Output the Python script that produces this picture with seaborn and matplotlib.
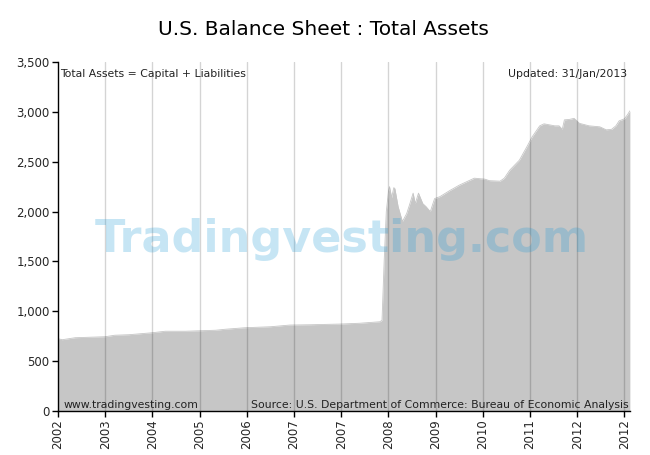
import numpy as np
import pandas as pd
import matplotlib
matplotlib.use("Agg")
import matplotlib.pyplot as plt
import seaborn as sns
from matplotlib.ticker import FuncFormatter

# weekly index (0 = Dec 2002) and total assets
weeks = [0, 4, 16, 30, 44, 53, 66, 77, 88, 100, 119, 133, 147, 156, 174, 198,
         216, 235, 263, 281, 300, 302, 304, 306, 308, 309, 311, 313, 314, 317,
         321, 325, 328, 331, 333, 336, 340, 343, 347, 351, 356, 365, 374, 384,
         388, 398, 402, 412, 416, 421, 430, 437, 442, 449, 453, 463, 467, 470,
         472, 477, 481, 486, 495, 505, 511, 516, 520, 523, 528, 531, 533]
assets = [725, 715, 735, 740, 745, 760, 765, 775, 785, 800, 800, 805, 810, 820,
          835, 845, 862, 865, 872, 880, 895, 910, 1500, 2000, 2200, 2250, 2140,
          2240, 2230, 2050, 1900, 1980, 2080, 2185, 2080, 2185, 2080, 2050, 2000,
          2130, 2150, 2210, 2265, 2315, 2335, 2325, 2310, 2305, 2335, 2415, 2515,
          2650, 2750, 2860, 2880, 2860, 2860, 2825, 2920, 2925, 2935, 2885, 2860,
          2850, 2820, 2825, 2860, 2910, 2930, 2975, 3010]

tick_weeks = [0, 44, 88, 132, 176, 220, 264, 308, 352, 396, 440, 484, 528]
tick_labels = ["2002", "2003", "2004", "2005", "2006", "2007", "2007",
               "2008", "2009", "2010", "2011", "2012", "2012"]

df = pd.DataFrame({"week": weeks, "assets": assets})

sns.set_theme(style="white")
plt.rcParams["font.family"] = ["DejaVu Sans"]

fig = plt.figure(figsize=(6.5, 4.55), dpi=100)
ax = fig.add_axes([0.0892, 0.0967, 0.8798, 0.767])

fill_color = "#c6c6c6"
ax.fill_between(df["week"], df["assets"], 0, color=fill_color, lw=0, zorder=1)
sns.lineplot(data=df, x="week", y="assets", color=fill_color, lw=0.6, ax=ax, zorder=1)

# vertical grid lines drawn over the fill
for w in tick_weeks[1:]:
    ax.axvline(w, color="black", alpha=0.17, lw=1, zorder=2)

ax.set_xlim(0, 533)
ax.set_ylim(0, 3500)
ax.set_yticks(np.arange(0, 3501, 500))
ax.yaxis.set_major_formatter(FuncFormatter(lambda v, p: f"{int(v):,}"))
ax.set_xticks(tick_weeks)
ax.set_xticklabels(tick_labels, rotation=90)
ax.tick_params(axis="both", labelsize=8.5, length=4, width=1, color="black",
               direction="out", pad=2, bottom=True, left=True)
ax.set_xlabel("")
ax.set_ylabel("")

for side in ["top", "right"]:
    ax.spines[side].set_visible(False)
for side in ["left", "bottom"]:
    ax.spines[side].set_color("black")
    ax.spines[side].set_linewidth(1)
    ax.spines[side].set_zorder(5)

# watermark
ax.text(0.497, 0.49, "Tradingvesting.com", transform=ax.transAxes, ha="center",
        va="center", fontsize=32, fontweight="heavy", color="#1e9ad6", alpha=0.25,
        zorder=3)

ax.text(0.003, 0.965, "Total Assets = Capital + Liabilities", transform=ax.transAxes,
        ha="left", va="center", fontsize=7.8, color="#222222", zorder=4)
ax.text(0.995, 0.965, "Updated: 31/Jan/2013", transform=ax.transAxes,
        ha="right", va="center", fontsize=7.8, color="#222222", zorder=4)
ax.text(0.01, 0.018, "www.tradingvesting.com", transform=ax.transAxes,
        ha="left", va="center", fontsize=7.8, color="#222222", zorder=4)
ax.text(0.997, 0.018, "Source: U.S. Department of Commerce: Bureau of Economic Analysis",
        transform=ax.transAxes, ha="right", va="center", fontsize=7.8,
        color="#222222", zorder=4)

fig.text(0.497, 0.935, "U.S. Balance Sheet : Total Assets", ha="center", va="center",
         fontsize=14.5, color="black")

fig.savefig("out.png", dpi=100, facecolor="white")
